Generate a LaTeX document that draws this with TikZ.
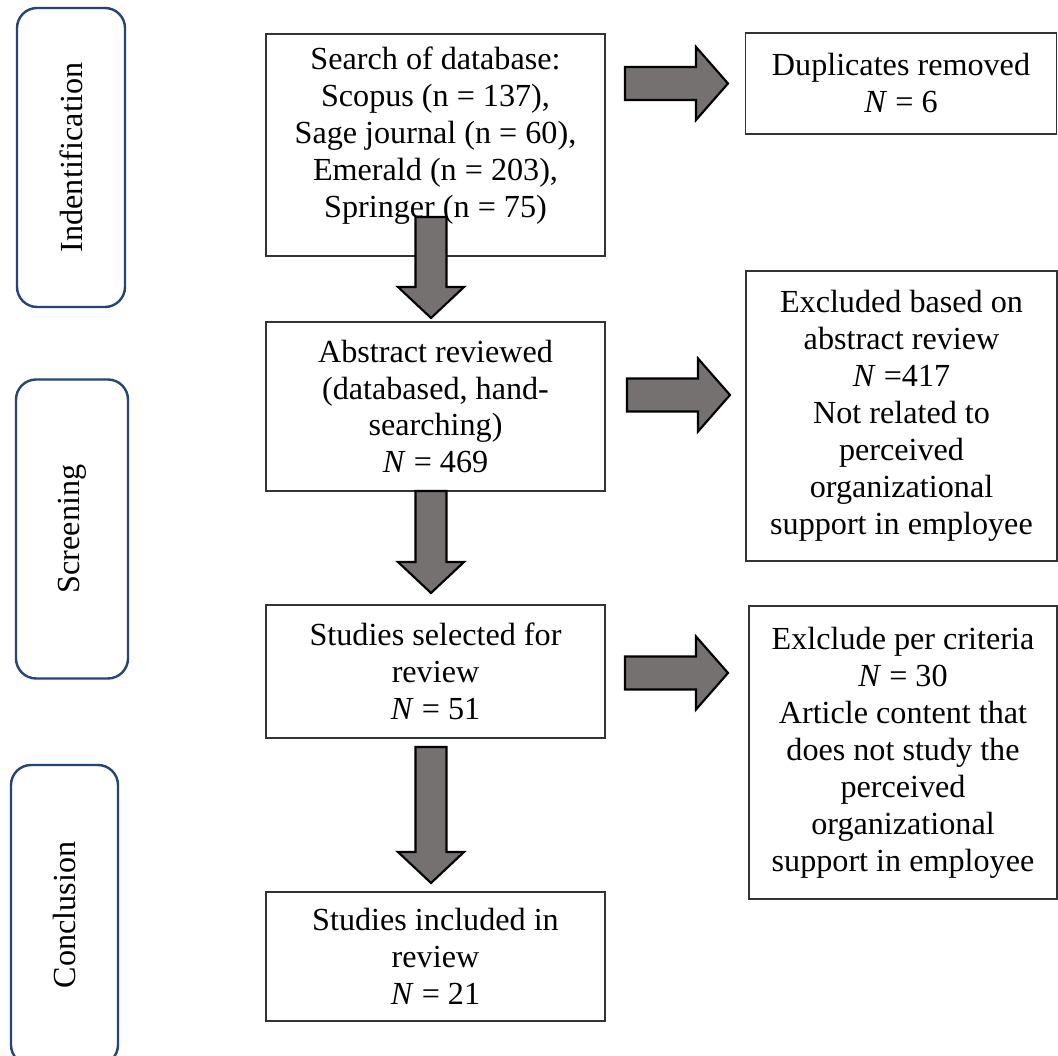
\documentclass[tikz,border=0pt]{standalone}
\usepackage{fontspec}
\setmainfont{Liberation Serif}
\usetikzlibrary{positioning}
\definecolor{PNavy}{HTML}{264478}
\definecolor{PGray}{HTML}{767171}
\definecolor{PLine}{HTML}{333333}
\newcommand{\px}{0.3731pt}

\begin{document}
\begin{tikzpicture}[
  x=\px,y=-\px,
  every node/.style={font=\fontsize{12}{13.8}\selectfont},
  phase/.style={draw=PNavy,line width=0.9pt,rounded corners=7.5pt,rotate=90,
    minimum width=299*\px,minimum height=108*\px,inner sep=0pt},
  box/.style={draw=PLine,line width=0.5pt,align=center,inner sep=0pt,
    minimum width=339*\px},
  sidebox/.style={box,minimum width=311*\px},
  blk/.style={draw=black,line width=0.8pt,fill=PGray,line join=miter},
  pics/rblock/.style={code={
    \draw[blk] (0,-16.5) -- (71,-16.5) -- (71,-36.5) -- (103,0)
      -- (71,36.5) -- (71,16.5) -- (0,16.5) -- cycle;}},
  pics/dblock/.style={code={
    \draw[blk] (-15.5,0) -- (15.5,0) -- (15.5,#1) -- (33,#1) -- (0,#1+31)
      -- (-33,#1) -- (-15.5,#1) -- cycle;}}
]
  \useasboundingbox (0,0) rectangle (1058,1056);

  % phases
  \node[phase] (ident) at (71,157.5) {Indentification};
  \node[phase,minimum height=112*\px] (screen) at (72,529) {Screening};
  \node[phase,minimum height=107*\px,minimum width=300*\px] (concl) at (64.5,915) {Conclusion};

  % main column
  \node[box,minimum height=222*\px] (search) at (435.5,145)
    {Search of database:\\Scopus (n = 137),\\Sage journal (n = 60),\\Emerald (n = 203),\\Springer (n = 75)\\[-4pt]\mbox{}};
  \node[box,minimum height=169*\px] (abstract) at (435.5,406.5)
    {Abstract reviewed\\(databased, hand-\\searching)\\\textit{N} = 469};
  \node[box,minimum height=133*\px] (selected) at (435.5,671.5)
    {Studies selected for\\review\\\textit{N} = 51};
  \node[box,minimum height=129*\px] (included) at (435.5,956.5)
    {Studies included in\\review\\\textit{N} = 21};

  % excluded records
  \node[sidebox,minimum height=101*\px] (dup) at (901,83.5)
    {Duplicates removed\\\textit{N} = 6};
  \node[sidebox,minimum height=290*\px] (exabs) at (901.5,416)
    {Excluded based on\\abstract review\\\textit{N} =417\\Not related to\\perceived\\organizational\\support in employee};
  \node[sidebox,minimum height=293*\px,minimum width=308*\px] (excrit) at (903,752.5)
    {Exlclude per criteria\\\textit{N} = 30\\Article content that\\does not study the\\perceived\\organizational\\support in employee};

  % block arrows
  \foreach \xx/\yy in {625/83.5,627/395,625/673}
    {\pic at (\xx,\yy) {rblock};}
  \pic at (431,217) {dblock=70};
  \pic at (431,491) {dblock=71};
  \pic at (431,747) {dblock=105};
\end{tikzpicture}
\end{document}
